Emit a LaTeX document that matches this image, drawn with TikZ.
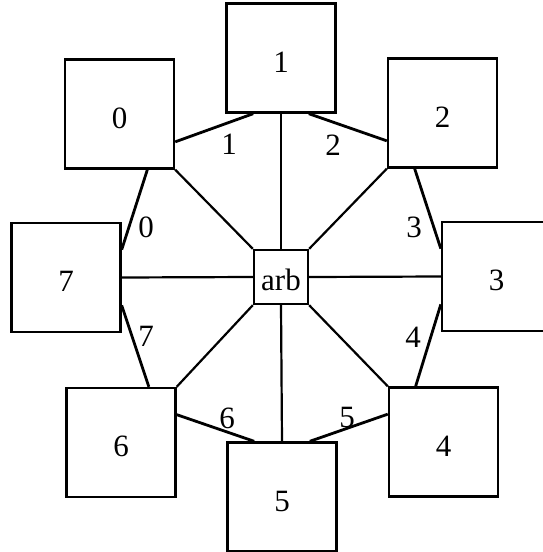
\documentclass[tikz,border=0pt]{standalone}
\usepackage{fontspec}
\setmainfont{Liberation Serif}
\usetikzlibrary{calc}

\begin{document}
\begin{tikzpicture}[x=0.5pt, y=-0.5pt,
  box/.style={draw,line width=1.2pt,minimum size=54.5pt,inner sep=0pt,
    font=\fontsize{15.5}{18}\selectfont,text height=14pt,text depth=0pt},
  arbbox/.style={draw,line width=1.2pt,minimum size=27pt,inner sep=0pt,
    font=\fontsize{15.5}{18}\selectfont,text height=13pt,text depth=0pt},
  lbl/.style={font=\fontsize{15.5}{18}\selectfont,inner sep=0pt},
  sp/.style={line width=1.1pt},
  ring/.style={line width=1.4pt}]

\useasboundingbox (0,0) rectangle (542,552);

\node[arbbox] (arb) at (281,277) {arb};
\node[box] (b0) at (119.5,114) {0};
\node[box] (b1) at (281,58) {1};
\node[box] (b2) at (442.5,113) {2};
\node[box] (b3) at (496.5,276.5) {3};
\node[box] (b4) at (443.5,442) {4};
\node[box] (b5) at (282,497) {5};
\node[box] (b6) at (121,442.5) {6};
\node[box] (b7) at (66,277.5) {7};

% spokes to the arbiter
\draw[sp] (arb.north) -- (b1.south);
\draw[sp] (arb.north west) -- (b0.south east);
\draw[sp] (arb.north east) -- (b2.south west);
\draw[sp] (arb.west) -- (b7.east);
\draw[sp] (arb.east) -- (b3.west);
\draw[sp] (arb.south west) -- (b6.north east);
\draw[sp] (arb.south east) -- (b4.north west);
\draw[sp] (arb.south) -- (b5.north);

% ring
\draw[ring] ($(b0.south east)!.25!(b0.north east)$) -- ($(b1.south west)!.25!(b1.south east)$);
\draw[ring] ($(b1.south east)!.25!(b1.south west)$) -- ($(b2.south west)!.25!(b2.north west)$);
\draw[ring] ($(b2.south west)!.25!(b2.south east)$) -- ($(b3.north west)!.25!(b3.south west)$);
\draw[ring] ($(b3.south west)!.25!(b3.north west)$) -- ($(b4.north west)!.25!(b4.north east)$);
\draw[ring] ($(b4.north west)!.25!(b4.south west)$) -- ($(b5.north east)!.25!(b5.north west)$);
\draw[ring] ($(b5.north west)!.25!(b5.north east)$) -- ($(b6.north east)!.25!(b6.south east)$);
\draw[ring] ($(b6.north east)!.25!(b6.north west)$) -- ($(b7.south east)!.25!(b7.north east)$);
\draw[ring] ($(b7.north east)!.25!(b7.south east)$) -- ($(b0.south east)!.25!(b0.south west)$);

\node[lbl] (l0) at (146,227) {0};
\node[lbl] (l1) at (229,144) {1};
\node[lbl] (l2) at (333,145) {2};
\node[lbl] (l3) at (414,227) {3};
\node[lbl] (l4) at (413,337) {4};
\node[lbl] (l5) at (347,417) {5};
\node[lbl] (l6) at (227,418) {6};
\node[lbl] (l7) at (146,336) {7};
\end{tikzpicture}
\end{document}
